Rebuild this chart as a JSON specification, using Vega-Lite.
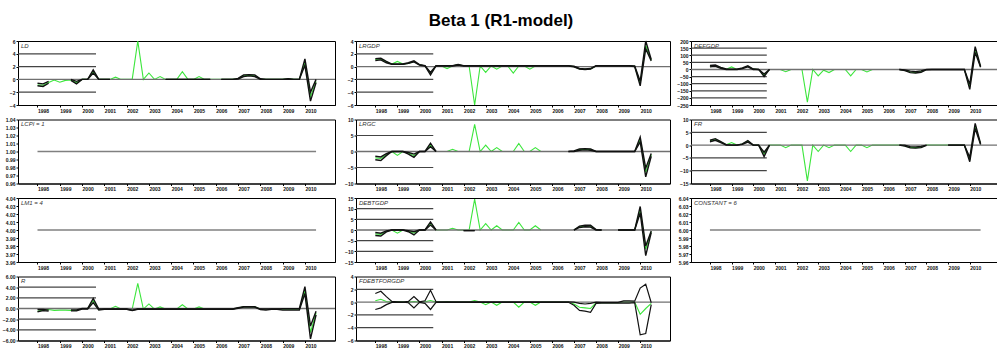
{
  "$schema": "https://vega.github.io/schema/vega-lite/v6.json",
  "padding": {"left": 1, "top": 11, "right": 0, "bottom": 0},
  "background": "white",
  "title": {"text": "Beta 1 (R1-model)", "font": "Liberation Sans", "fontSize": 17, "fontWeight": "bold", "anchor": "middle", "color": "#000", "offset": 8},
  "config": {
    "view": {"stroke": "#000", "strokeWidth": 1},
    "axis": {"grid": false, "labelFont": "Liberation Sans", "labelFontSize": 5, "labelFontWeight": "bold", "labelColor": "#111", "domainColor": "#000", "tickColor": "#000", "labelOverlap": false, "labelFlush": false, "labelBound": false, "tickCount": 30},
    "axisX": {"tickSize": 2, "labelAlign": "left", "labelBaseline": "top", "labelPadding": 1, "labelDx": 2, "minExtent": 9, "maxExtent": 9, "labelOverlap": false, "tickCount": 30},
    "axisY": {"tickSize": 2, "labelPadding": 1, "minExtent": 14, "maxExtent": 14, "labelOverlap": false, "tickCount": 30}
  },
  "datasets": {
    "g": [
      {"p": "LD", "y": 4}, {"p": "LD", "y": 2}, {"p": "LD", "y": -2},
      {"p": "LRGDP", "y": 2}, {"p": "LRGDP", "y": -2}, {"p": "LRGDP", "y": -4},
      {"p": "DEFGDP", "y": 150}, {"p": "DEFGDP", "y": 100}, {"p": "DEFGDP", "y": 50}, {"p": "DEFGDP", "y": -50}, {"p": "DEFGDP", "y": -100}, {"p": "DEFGDP", "y": -150}, {"p": "DEFGDP", "y": -200},
      {"p": "LRGC", "y": 5}, {"p": "LRGC", "y": -5},
      {"p": "FR", "y": 5}, {"p": "FR", "y": -5}, {"p": "FR", "y": -10},
      {"p": "DEBTGDP", "y": 10}, {"p": "DEBTGDP", "y": 5}, {"p": "DEBTGDP", "y": -5}, {"p": "DEBTGDP", "y": -10},
      {"p": "R", "y": 4}, {"p": "R", "y": 2}, {"p": "R", "y": -2}, {"p": "R", "y": -4},
      {"p": "FDEBT", "y": 2}, {"p": "FDEBT", "y": -2}, {"p": "FDEBT", "y": -4}
    ],
    "s": [
      {"p":"LCPI","q":0,"e":1},{"p":"LCPI","q":50,"e":1},
      {"p":"LM1","q":0,"e":4},{"p":"LM1","q":50,"e":4},
      {"p":"CONST","q":0,"e":6},{"p":"CONST","q":50,"e":6},

      {"p":"LD","q":0,"e":-0.87,"h":-0.6,"l":-1},
      {"p":"LD","q":1,"e":-0.9,"h":-0.7,"l":-1.1},
      {"p":"LD","q":2,"e":-0.5,"h":-0.3,"l":-0.6},
      {"p":"LD","q":3,"e":-0.1,"h":null,"l":null},
      {"p":"LD","q":4,"e":-0.45,"h":null,"l":null},
      {"p":"LD","q":5,"e":-0.15,"h":null,"l":null},
      {"p":"LD","q":6,"e":-0.1,"h":0,"l":-0.15},
      {"p":"LD","q":7,"e":-0.5,"h":-0.3,"l":-0.7},
      {"p":"LD","q":8,"e":0,"h":0,"l":0},
      {"p":"LD","q":9,"e":0,"h":0,"l":0},
      {"p":"LD","q":10,"e":1.2,"h":1.5,"l":1},
      {"p":"LD","q":11,"e":0,"h":0,"l":0},
      {"p":"LD","q":12,"e":0,"h":0,"l":0},
      {"p":"LD","q":13,"e":0,"h":0,"l":0},
      {"p":"LD","q":14,"e":0.35,"h":null,"l":null},
      {"p":"LD","q":15,"e":0,"h":null,"l":null},
      {"p":"LD","q":16,"e":0,"h":null,"l":null},
      {"p":"LD","q":17,"e":0,"h":null,"l":null},
      {"p":"LD","q":18,"e":6,"h":null,"l":null},
      {"p":"LD","q":19,"e":0,"h":null,"l":null},
      {"p":"LD","q":20,"e":1,"h":null,"l":null},
      {"p":"LD","q":21,"e":0,"h":null,"l":null},
      {"p":"LD","q":22,"e":0.45,"h":null,"l":null},
      {"p":"LD","q":23,"e":0,"h":0,"l":0},
      {"p":"LD","q":24,"e":0,"h":0,"l":0},
      {"p":"LD","q":25,"e":0,"h":0,"l":0},
      {"p":"LD","q":26,"e":1.2,"h":0,"l":0},
      {"p":"LD","q":27,"e":0,"h":0,"l":0},
      {"p":"LD","q":28,"e":0,"h":0,"l":0},
      {"p":"LD","q":29,"e":0.45,"h":0,"l":0},
      {"p":"LD","q":30,"e":0,"h":0,"l":0},
      {"p":"LD","q":31,"e":0,"h":0,"l":0},
      {"p":"LD","q":32,"e":0,"h":null,"l":null},
      {"p":"LD","q":33,"e":0,"h":0,"l":0},
      {"p":"LD","q":34,"e":0,"h":0,"l":0},
      {"p":"LD","q":35,"e":0,"h":0,"l":0},
      {"p":"LD","q":36,"e":0.1,"h":0.15,"l":0.05},
      {"p":"LD","q":37,"e":0.55,"h":0.7,"l":0.45},
      {"p":"LD","q":38,"e":0.65,"h":0.75,"l":0.55},
      {"p":"LD","q":39,"e":0.55,"h":0.7,"l":0.45},
      {"p":"LD","q":40,"e":0.05,"h":0.1,"l":0},
      {"p":"LD","q":41,"e":0,"h":0,"l":0},
      {"p":"LD","q":42,"e":0,"h":0,"l":0},
      {"p":"LD","q":43,"e":0,"h":0,"l":0},
      {"p":"LD","q":44,"e":0,"h":0,"l":0},
      {"p":"LD","q":45,"e":0.1,"h":0.12,"l":0.05},
      {"p":"LD","q":46,"e":0,"h":0,"l":0},
      {"p":"LD","q":47,"e":0,"h":0,"l":0},
      {"p":"LD","q":48,"e":2.6,"h":3.2,"l":2.2},
      {"p":"LD","q":49,"e":-2.7,"h":-2,"l":-3.4},
      {"p":"LD","q":50,"e":-0.3,"h":0,"l":-0.5},

      {"p":"LRGDP","q":0,"e":1.1,"h":1.25,"l":0.95},
      {"p":"LRGDP","q":1,"e":1.2,"h":1.3,"l":1.05},
      {"p":"LRGDP","q":2,"e":0.7,"h":0.8,"l":0.6},
      {"p":"LRGDP","q":3,"e":0.4,"h":0.4,"l":0.35},
      {"p":"LRGDP","q":4,"e":0.8,"h":0.4,"l":0.35},
      {"p":"LRGDP","q":5,"e":0.4,"h":0.4,"l":0.35},
      {"p":"LRGDP","q":6,"e":0.5,"h":0.6,"l":0.5},
      {"p":"LRGDP","q":7,"e":0.8,"h":0.9,"l":0.75},
      {"p":"LRGDP","q":8,"e":0.3,"h":0.3,"l":0.25},
      {"p":"LRGDP","q":9,"e":0.1,"h":0.15,"l":0.1},
      {"p":"LRGDP","q":10,"e":-1.05,"h":-0.9,"l":-1.3},
      {"p":"LRGDP","q":11,"e":0.1,"h":0.15,"l":0.1},
      {"p":"LRGDP","q":12,"e":0.1,"h":0.15,"l":0.1},
      {"p":"LRGDP","q":13,"e":-0.3,"h":0.15,"l":0.1},
      {"p":"LRGDP","q":14,"e":0.1,"h":0.15,"l":0.1},
      {"p":"LRGDP","q":15,"e":0.3,"h":0.35,"l":0.25},
      {"p":"LRGDP","q":16,"e":0.1,"h":0.15,"l":0.1},
      {"p":"LRGDP","q":17,"e":0.1,"h":0.15,"l":0.1},
      {"p":"LRGDP","q":18,"e":-6,"h":0.15,"l":0.1},
      {"p":"LRGDP","q":19,"e":0.1,"h":0.15,"l":0.1},
      {"p":"LRGDP","q":20,"e":-0.9,"h":0.15,"l":0.1},
      {"p":"LRGDP","q":21,"e":0.1,"h":0.15,"l":0.1},
      {"p":"LRGDP","q":22,"e":-0.4,"h":0.15,"l":0.1},
      {"p":"LRGDP","q":23,"e":0.1,"h":0.15,"l":0.1},
      {"p":"LRGDP","q":24,"e":0.1,"h":0.15,"l":0.1},
      {"p":"LRGDP","q":25,"e":-1,"h":0.15,"l":0.1},
      {"p":"LRGDP","q":26,"e":0.1,"h":0.15,"l":0.1},
      {"p":"LRGDP","q":27,"e":0.1,"h":0.15,"l":0.1},
      {"p":"LRGDP","q":28,"e":-0.4,"h":0.15,"l":0.1},
      {"p":"LRGDP","q":29,"e":0.1,"h":0.15,"l":0.1},
      {"p":"LRGDP","q":30,"e":0.1,"h":0.15,"l":0.1},
      {"p":"LRGDP","q":31,"e":0.1,"h":0.15,"l":0.1},
      {"p":"LRGDP","q":32,"e":0.1,"h":0.15,"l":0.1},
      {"p":"LRGDP","q":33,"e":0.1,"h":0.15,"l":0.1},
      {"p":"LRGDP","q":34,"e":0.1,"h":0.15,"l":0.1},
      {"p":"LRGDP","q":35,"e":0.1,"h":0.15,"l":0.1},
      {"p":"LRGDP","q":36,"e":0,"h":0.05,"l":-0.05},
      {"p":"LRGDP","q":37,"e":-0.35,"h":-0.3,"l":-0.4},
      {"p":"LRGDP","q":38,"e":-0.4,"h":-0.35,"l":-0.45},
      {"p":"LRGDP","q":39,"e":-0.35,"h":-0.3,"l":-0.4},
      {"p":"LRGDP","q":40,"e":0.1,"h":0.15,"l":0.1},
      {"p":"LRGDP","q":41,"e":0.1,"h":0.15,"l":0.1},
      {"p":"LRGDP","q":42,"e":0.1,"h":0.15,"l":0.1},
      {"p":"LRGDP","q":43,"e":0.1,"h":0.15,"l":0.1},
      {"p":"LRGDP","q":44,"e":0.1,"h":0.15,"l":0.1},
      {"p":"LRGDP","q":45,"e":0.1,"h":0.15,"l":0.1},
      {"p":"LRGDP","q":46,"e":0.1,"h":0.15,"l":0.1},
      {"p":"LRGDP","q":47,"e":0.05,"h":0.1,"l":0},
      {"p":"LRGDP","q":48,"e":-2.6,"h":-2.3,"l":-3},
      {"p":"LRGDP","q":49,"e":3.3,"h":4,"l":2.8},
      {"p":"LRGDP","q":50,"e":1,"h":1.1,"l":0.9},

      {"p":"DEFGDP","q":0,"e":22,"h":28,"l":18},
      {"p":"DEFGDP","q":1,"e":26,"h":31,"l":22},
      {"p":"DEFGDP","q":2,"e":11,"h":14,"l":8},
      {"p":"DEFGDP","q":3,"e":2,"h":3,"l":0},
      {"p":"DEFGDP","q":4,"e":18,"h":2,"l":0},
      {"p":"DEFGDP","q":5,"e":0,"h":2,"l":0},
      {"p":"DEFGDP","q":6,"e":8,"h":10,"l":6},
      {"p":"DEFGDP","q":7,"e":22,"h":25,"l":18},
      {"p":"DEFGDP","q":8,"e":2,"h":3,"l":0},
      {"p":"DEFGDP","q":9,"e":0,"h":0,"l":0},
      {"p":"DEFGDP","q":10,"e":-40,"h":-32,"l":-50},
      {"p":"DEFGDP","q":11,"e":0,"h":0,"l":0},
      {"p":"DEFGDP","q":12,"e":0,"h":null,"l":null},
      {"p":"DEFGDP","q":13,"e":0,"h":null,"l":null},
      {"p":"DEFGDP","q":14,"e":-16,"h":null,"l":null},
      {"p":"DEFGDP","q":15,"e":0,"h":null,"l":null},
      {"p":"DEFGDP","q":16,"e":0,"h":null,"l":null},
      {"p":"DEFGDP","q":17,"e":0,"h":null,"l":null},
      {"p":"DEFGDP","q":18,"e":-230,"h":null,"l":null},
      {"p":"DEFGDP","q":19,"e":0,"h":null,"l":null},
      {"p":"DEFGDP","q":20,"e":-45,"h":null,"l":null},
      {"p":"DEFGDP","q":21,"e":-5,"h":null,"l":null},
      {"p":"DEFGDP","q":22,"e":-22,"h":null,"l":null},
      {"p":"DEFGDP","q":23,"e":0,"h":null,"l":null},
      {"p":"DEFGDP","q":24,"e":0,"h":null,"l":null},
      {"p":"DEFGDP","q":25,"e":0,"h":null,"l":null},
      {"p":"DEFGDP","q":26,"e":-45,"h":null,"l":null},
      {"p":"DEFGDP","q":27,"e":0,"h":null,"l":null},
      {"p":"DEFGDP","q":28,"e":0,"h":null,"l":null},
      {"p":"DEFGDP","q":29,"e":-18,"h":null,"l":null},
      {"p":"DEFGDP","q":30,"e":0,"h":null,"l":null},
      {"p":"DEFGDP","q":31,"e":0,"h":null,"l":null},
      {"p":"DEFGDP","q":32,"e":0,"h":null,"l":null},
      {"p":"DEFGDP","q":33,"e":0,"h":null,"l":null},
      {"p":"DEFGDP","q":34,"e":0,"h":null,"l":null},
      {"p":"DEFGDP","q":35,"e":0,"h":0,"l":0},
      {"p":"DEFGDP","q":36,"e":-5,"h":-3,"l":-8},
      {"p":"DEFGDP","q":37,"e":-18,"h":-12,"l":-22},
      {"p":"DEFGDP","q":38,"e":-22,"h":-15,"l":-25},
      {"p":"DEFGDP","q":39,"e":-15,"h":-10,"l":-20},
      {"p":"DEFGDP","q":40,"e":0,"h":0,"l":-2},
      {"p":"DEFGDP","q":41,"e":0,"h":0,"l":0},
      {"p":"DEFGDP","q":42,"e":0,"h":0,"l":0},
      {"p":"DEFGDP","q":43,"e":0,"h":0,"l":0},
      {"p":"DEFGDP","q":44,"e":0,"h":0,"l":0},
      {"p":"DEFGDP","q":45,"e":0,"h":0,"l":0},
      {"p":"DEFGDP","q":46,"e":0,"h":0,"l":0},
      {"p":"DEFGDP","q":47,"e":0,"h":0,"l":0},
      {"p":"DEFGDP","q":48,"e":-120,"h":-105,"l":-140},
      {"p":"DEFGDP","q":49,"e":140,"h":160,"l":120},
      {"p":"DEFGDP","q":50,"e":18,"h":22,"l":15},

      {"p":"LRGC","q":0,"e":-2,"h":-1.5,"l":-2.6},
      {"p":"LRGC","q":1,"e":-2.2,"h":-1.7,"l":-2.8},
      {"p":"LRGC","q":2,"e":-1,"h":-0.7,"l":-1.3},
      {"p":"LRGC","q":3,"e":0,"h":0,"l":0},
      {"p":"LRGC","q":4,"e":-1.2,"h":0,"l":0},
      {"p":"LRGC","q":5,"e":0,"h":0,"l":0},
      {"p":"LRGC","q":6,"e":-0.5,"h":-0.3,"l":-0.8},
      {"p":"LRGC","q":7,"e":-1.3,"h":-0.8,"l":-1.8},
      {"p":"LRGC","q":8,"e":0,"h":0,"l":0},
      {"p":"LRGC","q":9,"e":0,"h":0,"l":0},
      {"p":"LRGC","q":10,"e":2,"h":2.6,"l":1.5},
      {"p":"LRGC","q":11,"e":0,"h":0,"l":0},
      {"p":"LRGC","q":12,"e":0,"h":null,"l":null},
      {"p":"LRGC","q":13,"e":0,"h":null,"l":null},
      {"p":"LRGC","q":14,"e":0.7,"h":null,"l":null},
      {"p":"LRGC","q":15,"e":0,"h":null,"l":null},
      {"p":"LRGC","q":16,"e":0,"h":null,"l":null},
      {"p":"LRGC","q":17,"e":0,"h":null,"l":null},
      {"p":"LRGC","q":18,"e":8.5,"h":null,"l":null},
      {"p":"LRGC","q":19,"e":0,"h":null,"l":null},
      {"p":"LRGC","q":20,"e":2,"h":null,"l":null},
      {"p":"LRGC","q":21,"e":0,"h":null,"l":null},
      {"p":"LRGC","q":22,"e":1.2,"h":null,"l":null},
      {"p":"LRGC","q":23,"e":0,"h":null,"l":null},
      {"p":"LRGC","q":24,"e":0,"h":null,"l":null},
      {"p":"LRGC","q":25,"e":0,"h":null,"l":null},
      {"p":"LRGC","q":26,"e":2.5,"h":null,"l":null},
      {"p":"LRGC","q":27,"e":0,"h":null,"l":null},
      {"p":"LRGC","q":28,"e":0,"h":null,"l":null},
      {"p":"LRGC","q":29,"e":1.2,"h":null,"l":null},
      {"p":"LRGC","q":30,"e":0,"h":null,"l":null},
      {"p":"LRGC","q":31,"e":0,"h":null,"l":null},
      {"p":"LRGC","q":32,"e":0,"h":null,"l":null},
      {"p":"LRGC","q":33,"e":0,"h":null,"l":null},
      {"p":"LRGC","q":34,"e":0,"h":null,"l":null},
      {"p":"LRGC","q":35,"e":0,"h":0,"l":0},
      {"p":"LRGC","q":36,"e":0.1,"h":0.2,"l":0},
      {"p":"LRGC","q":37,"e":0.6,"h":0.8,"l":0.4},
      {"p":"LRGC","q":38,"e":0.7,"h":0.9,"l":0.5},
      {"p":"LRGC","q":39,"e":0.6,"h":0.8,"l":0.4},
      {"p":"LRGC","q":40,"e":0,"h":0,"l":0},
      {"p":"LRGC","q":41,"e":0,"h":0,"l":0},
      {"p":"LRGC","q":42,"e":0,"h":0,"l":0},
      {"p":"LRGC","q":43,"e":0,"h":0,"l":0},
      {"p":"LRGC","q":44,"e":0,"h":0,"l":0},
      {"p":"LRGC","q":45,"e":0,"h":0,"l":0},
      {"p":"LRGC","q":46,"e":0,"h":0,"l":0},
      {"p":"LRGC","q":47,"e":0,"h":0,"l":0},
      {"p":"LRGC","q":48,"e":3.8,"h":4.5,"l":3},
      {"p":"LRGC","q":49,"e":-6.5,"h":-5.2,"l":-7.9},
      {"p":"LRGC","q":50,"e":-1,"h":-0.6,"l":-1.5},

      {"p":"FR","q":0,"e":1.6,"h":1.9,"l":1.3},
      {"p":"FR","q":1,"e":2.2,"h":2.5,"l":1.9},
      {"p":"FR","q":2,"e":1.2,"h":1.4,"l":1},
      {"p":"FR","q":3,"e":0.1,"h":0.2,"l":0},
      {"p":"FR","q":4,"e":1,"h":0,"l":0},
      {"p":"FR","q":5,"e":0,"h":0,"l":0},
      {"p":"FR","q":6,"e":0.4,"h":0.5,"l":0.3},
      {"p":"FR","q":7,"e":1.5,"h":1.8,"l":1.2},
      {"p":"FR","q":8,"e":0,"h":0,"l":0},
      {"p":"FR","q":9,"e":0,"h":0,"l":0},
      {"p":"FR","q":10,"e":-3.5,"h":-2.8,"l":-4.5},
      {"p":"FR","q":11,"e":0,"h":0,"l":0},
      {"p":"FR","q":12,"e":0,"h":null,"l":null},
      {"p":"FR","q":13,"e":0,"h":null,"l":null},
      {"p":"FR","q":14,"e":-1,"h":null,"l":null},
      {"p":"FR","q":15,"e":0,"h":null,"l":null},
      {"p":"FR","q":16,"e":0,"h":null,"l":null},
      {"p":"FR","q":17,"e":0,"h":null,"l":null},
      {"p":"FR","q":18,"e":-14,"h":null,"l":null},
      {"p":"FR","q":19,"e":0,"h":null,"l":null},
      {"p":"FR","q":20,"e":-2.5,"h":null,"l":null},
      {"p":"FR","q":21,"e":0,"h":null,"l":null},
      {"p":"FR","q":22,"e":-1,"h":null,"l":null},
      {"p":"FR","q":23,"e":0,"h":null,"l":null},
      {"p":"FR","q":24,"e":0,"h":null,"l":null},
      {"p":"FR","q":25,"e":0,"h":null,"l":null},
      {"p":"FR","q":26,"e":-2.5,"h":null,"l":null},
      {"p":"FR","q":27,"e":0,"h":null,"l":null},
      {"p":"FR","q":28,"e":0,"h":null,"l":null},
      {"p":"FR","q":29,"e":-1,"h":null,"l":null},
      {"p":"FR","q":30,"e":0,"h":null,"l":null},
      {"p":"FR","q":31,"e":0,"h":null,"l":null},
      {"p":"FR","q":32,"e":0,"h":null,"l":null},
      {"p":"FR","q":33,"e":0,"h":null,"l":null},
      {"p":"FR","q":34,"e":0,"h":null,"l":null},
      {"p":"FR","q":35,"e":0,"h":0,"l":0},
      {"p":"FR","q":36,"e":-0.2,"h":0,"l":-0.4},
      {"p":"FR","q":37,"e":-0.9,"h":-0.6,"l":-1.1},
      {"p":"FR","q":38,"e":-1,"h":-0.7,"l":-1.2},
      {"p":"FR","q":39,"e":-0.8,"h":-0.5,"l":-1},
      {"p":"FR","q":40,"e":0,"h":0,"l":-0.1},
      {"p":"FR","q":41,"e":0,"h":null,"l":null},
      {"p":"FR","q":42,"e":0,"h":null,"l":null},
      {"p":"FR","q":43,"e":0,"h":null,"l":null},
      {"p":"FR","q":44,"e":0,"h":0,"l":0},
      {"p":"FR","q":45,"e":0,"h":0,"l":0},
      {"p":"FR","q":46,"e":0,"h":0,"l":0},
      {"p":"FR","q":47,"e":0,"h":0,"l":0},
      {"p":"FR","q":48,"e":-5.5,"h":-4.8,"l":-6.5},
      {"p":"FR","q":49,"e":7.5,"h":8.5,"l":6.5},
      {"p":"FR","q":50,"e":0.4,"h":0.6,"l":0.2},

      {"p":"DEBTGDP","q":0,"e":-1.8,"h":-1.2,"l":-2.6},
      {"p":"DEBTGDP","q":1,"e":-2.1,"h":-1.5,"l":-2.8},
      {"p":"DEBTGDP","q":2,"e":-0.6,"h":-0.4,"l":-0.9},
      {"p":"DEBTGDP","q":3,"e":0,"h":0,"l":0},
      {"p":"DEBTGDP","q":4,"e":-1.5,"h":0,"l":0},
      {"p":"DEBTGDP","q":5,"e":0,"h":0,"l":0},
      {"p":"DEBTGDP","q":6,"e":-0.5,"h":-0.3,"l":-0.8},
      {"p":"DEBTGDP","q":7,"e":-1.5,"h":-0.8,"l":-2.3},
      {"p":"DEBTGDP","q":8,"e":0,"h":0,"l":0},
      {"p":"DEBTGDP","q":9,"e":0,"h":0,"l":0},
      {"p":"DEBTGDP","q":10,"e":3,"h":3.8,"l":2.3},
      {"p":"DEBTGDP","q":11,"e":0,"h":0,"l":0},
      {"p":"DEBTGDP","q":12,"e":0,"h":null,"l":null},
      {"p":"DEBTGDP","q":13,"e":0,"h":null,"l":null},
      {"p":"DEBTGDP","q":14,"e":0.8,"h":null,"l":null},
      {"p":"DEBTGDP","q":15,"e":0,"h":null,"l":null},
      {"p":"DEBTGDP","q":16,"e":0,"h":-0.3,"l":-0.3},
      {"p":"DEBTGDP","q":17,"e":0,"h":-0.3,"l":-0.3},
      {"p":"DEBTGDP","q":18,"e":14.5,"h":-0.3,"l":-0.3},
      {"p":"DEBTGDP","q":19,"e":0,"h":null,"l":null},
      {"p":"DEBTGDP","q":20,"e":3,"h":null,"l":null},
      {"p":"DEBTGDP","q":21,"e":0,"h":null,"l":null},
      {"p":"DEBTGDP","q":22,"e":2,"h":null,"l":null},
      {"p":"DEBTGDP","q":23,"e":0,"h":null,"l":null},
      {"p":"DEBTGDP","q":24,"e":0,"h":null,"l":null},
      {"p":"DEBTGDP","q":25,"e":0,"h":null,"l":null},
      {"p":"DEBTGDP","q":26,"e":3.5,"h":null,"l":null},
      {"p":"DEBTGDP","q":27,"e":0,"h":null,"l":null},
      {"p":"DEBTGDP","q":28,"e":0,"h":null,"l":null},
      {"p":"DEBTGDP","q":29,"e":2,"h":null,"l":null},
      {"p":"DEBTGDP","q":30,"e":0,"h":null,"l":null},
      {"p":"DEBTGDP","q":31,"e":null,"h":null,"l":null},
      {"p":"DEBTGDP","q":32,"e":null,"h":null,"l":null},
      {"p":"DEBTGDP","q":33,"e":null,"h":null,"l":null},
      {"p":"DEBTGDP","q":34,"e":null,"h":null,"l":null},
      {"p":"DEBTGDP","q":35,"e":null,"h":null,"l":null},
      {"p":"DEBTGDP","q":36,"e":0,"h":0,"l":0},
      {"p":"DEBTGDP","q":37,"e":1.5,"h":1.8,"l":1.2},
      {"p":"DEBTGDP","q":38,"e":1.8,"h":2.2,"l":1.5},
      {"p":"DEBTGDP","q":39,"e":1.8,"h":2.2,"l":1.4},
      {"p":"DEBTGDP","q":40,"e":0.1,"h":0.2,"l":0},
      {"p":"DEBTGDP","q":41,"e":0,"h":0,"l":0},
      {"p":"DEBTGDP","q":42,"e":null,"h":null,"l":null},
      {"p":"DEBTGDP","q":43,"e":null,"h":null,"l":null},
      {"p":"DEBTGDP","q":44,"e":0,"h":0,"l":0},
      {"p":"DEBTGDP","q":45,"e":0,"h":0,"l":0},
      {"p":"DEBTGDP","q":46,"e":0,"h":0,"l":0},
      {"p":"DEBTGDP","q":47,"e":0,"h":0,"l":0},
      {"p":"DEBTGDP","q":48,"e":9.5,"h":11,"l":8},
      {"p":"DEBTGDP","q":49,"e":-9,"h":-7.5,"l":-12},
      {"p":"DEBTGDP","q":50,"e":-0.8,"h":-0.5,"l":-1.2},

      {"p":"R","q":0,"e":-0.5,"h":-0.2,"l":-0.6},
      {"p":"R","q":1,"e":-0.3,"h":-0.2,"l":-0.4},
      {"p":"R","q":2,"e":-0.2,"h":-0.3,"l":-0.5},
      {"p":"R","q":3,"e":-0.35,"h":null,"l":null},
      {"p":"R","q":4,"e":-0.3,"h":null,"l":null},
      {"p":"R","q":5,"e":-0.3,"h":null,"l":null},
      {"p":"R","q":6,"e":-0.35,"h":-0.25,"l":-0.45},
      {"p":"R","q":7,"e":-0.35,"h":-0.25,"l":-0.45},
      {"p":"R","q":8,"e":0,"h":0,"l":-0.1},
      {"p":"R","q":9,"e":0,"h":0,"l":-0.1},
      {"p":"R","q":10,"e":1.5,"h":1.9,"l":1.1},
      {"p":"R","q":11,"e":-0.2,"h":-0.1,"l":-0.3},
      {"p":"R","q":12,"e":-0.1,"h":-0.1,"l":-0.15},
      {"p":"R","q":13,"e":-0.1,"h":-0.1,"l":-0.15},
      {"p":"R","q":14,"e":0.4,"h":-0.1,"l":-0.15},
      {"p":"R","q":15,"e":-0.1,"h":-0.1,"l":-0.15},
      {"p":"R","q":16,"e":-0.1,"h":-0.1,"l":-0.15},
      {"p":"R","q":17,"e":-0.1,"h":-0.3,"l":-0.4},
      {"p":"R","q":18,"e":4.7,"h":-0.1,"l":-0.15},
      {"p":"R","q":19,"e":-0.1,"h":-0.1,"l":-0.15},
      {"p":"R","q":20,"e":0.85,"h":-0.1,"l":-0.15},
      {"p":"R","q":21,"e":-0.1,"h":-0.1,"l":-0.15},
      {"p":"R","q":22,"e":0.3,"h":-0.1,"l":-0.15},
      {"p":"R","q":23,"e":-0.1,"h":-0.1,"l":-0.15},
      {"p":"R","q":24,"e":-0.1,"h":-0.1,"l":-0.15},
      {"p":"R","q":25,"e":-0.1,"h":-0.1,"l":-0.15},
      {"p":"R","q":26,"e":0.7,"h":-0.1,"l":-0.15},
      {"p":"R","q":27,"e":-0.1,"h":-0.1,"l":-0.15},
      {"p":"R","q":28,"e":-0.1,"h":-0.1,"l":-0.15},
      {"p":"R","q":29,"e":0.3,"h":-0.1,"l":-0.15},
      {"p":"R","q":30,"e":-0.1,"h":-0.1,"l":-0.15},
      {"p":"R","q":31,"e":-0.1,"h":-0.1,"l":-0.15},
      {"p":"R","q":32,"e":-0.1,"h":-0.1,"l":-0.15},
      {"p":"R","q":33,"e":-0.1,"h":-0.1,"l":-0.15},
      {"p":"R","q":34,"e":-0.1,"h":-0.1,"l":-0.15},
      {"p":"R","q":35,"e":-0.1,"h":-0.1,"l":-0.15},
      {"p":"R","q":36,"e":0.1,"h":0.15,"l":0.05},
      {"p":"R","q":37,"e":0.3,"h":0.35,"l":0.25},
      {"p":"R","q":38,"e":0.3,"h":0.35,"l":0.25},
      {"p":"R","q":39,"e":0.3,"h":0.35,"l":0.25},
      {"p":"R","q":40,"e":-0.1,"h":-0.1,"l":-0.2},
      {"p":"R","q":41,"e":-0.15,"h":-0.1,"l":-0.3},
      {"p":"R","q":42,"e":-0.1,"h":-0.1,"l":-0.15},
      {"p":"R","q":43,"e":-0.1,"h":-0.1,"l":-0.15},
      {"p":"R","q":44,"e":-0.15,"h":-0.05,"l":-0.3},
      {"p":"R","q":45,"e":-0.15,"h":-0.05,"l":-0.3},
      {"p":"R","q":46,"e":-0.15,"h":-0.05,"l":-0.3},
      {"p":"R","q":47,"e":-0.15,"h":-0.05,"l":-0.3},
      {"p":"R","q":48,"e":3.4,"h":4.1,"l":2.8},
      {"p":"R","q":49,"e":-4.5,"h":-3.3,"l":-5.7},
      {"p":"R","q":50,"e":-0.8,"h":-0.5,"l":-1.2},

      {"p":"FDEBT","q":0,"e":0.2,"h":1.35,"l":-1.15},
      {"p":"FDEBT","q":1,"e":0.45,"h":1.7,"l":-0.9},
      {"p":"FDEBT","q":2,"e":0.1,"h":0.85,"l":-0.4},
      {"p":"FDEBT","q":3,"e":0,"h":0.1,"l":-0.05},
      {"p":"FDEBT","q":4,"e":0.1,"h":0.05,"l":-0.05},
      {"p":"FDEBT","q":5,"e":0.05,"h":0,"l":0},
      {"p":"FDEBT","q":6,"e":0,"h":0.1,"l":-0.1},
      {"p":"FDEBT","q":7,"e":0.1,"h":0.85,"l":-0.9},
      {"p":"FDEBT","q":8,"e":0,"h":0.05,"l":-0.05},
      {"p":"FDEBT","q":9,"e":0.05,"h":0.2,"l":-0.2},
      {"p":"FDEBT","q":10,"e":0.25,"h":1.85,"l":-1.15},
      {"p":"FDEBT","q":11,"e":0,"h":0.05,"l":-0.05},
      {"p":"FDEBT","q":12,"e":0,"h":0.03,"l":-0.03},
      {"p":"FDEBT","q":13,"e":0.1,"h":0.03,"l":-0.03},
      {"p":"FDEBT","q":14,"e":0,"h":0.03,"l":-0.03},
      {"p":"FDEBT","q":15,"e":0,"h":0.03,"l":-0.03},
      {"p":"FDEBT","q":16,"e":0,"h":0.03,"l":-0.03},
      {"p":"FDEBT","q":17,"e":0,"h":0.03,"l":-0.03},
      {"p":"FDEBT","q":18,"e":0.25,"h":0.03,"l":-0.03},
      {"p":"FDEBT","q":19,"e":0,"h":0.03,"l":-0.03},
      {"p":"FDEBT","q":20,"e":-0.4,"h":0.03,"l":-0.03},
      {"p":"FDEBT","q":21,"e":0,"h":0.03,"l":-0.03},
      {"p":"FDEBT","q":22,"e":-0.5,"h":0.03,"l":-0.03},
      {"p":"FDEBT","q":23,"e":0,"h":0.03,"l":-0.03},
      {"p":"FDEBT","q":24,"e":0,"h":0.03,"l":-0.03},
      {"p":"FDEBT","q":25,"e":0,"h":0.03,"l":-0.03},
      {"p":"FDEBT","q":26,"e":-0.8,"h":0.03,"l":-0.03},
      {"p":"FDEBT","q":27,"e":0,"h":0.03,"l":-0.03},
      {"p":"FDEBT","q":28,"e":0,"h":0.03,"l":-0.03},
      {"p":"FDEBT","q":29,"e":-0.5,"h":0.03,"l":-0.03},
      {"p":"FDEBT","q":30,"e":0,"h":0.03,"l":-0.03},
      {"p":"FDEBT","q":31,"e":0,"h":0.03,"l":-0.03},
      {"p":"FDEBT","q":32,"e":0,"h":0.03,"l":-0.03},
      {"p":"FDEBT","q":33,"e":0,"h":0.03,"l":-0.03},
      {"p":"FDEBT","q":34,"e":0,"h":0.03,"l":-0.03},
      {"p":"FDEBT","q":35,"e":0,"h":0.03,"l":-0.03},
      {"p":"FDEBT","q":36,"e":-0.3,"h":0,"l":-0.5},
      {"p":"FDEBT","q":37,"e":-0.8,"h":-0.2,"l":-1.3},
      {"p":"FDEBT","q":38,"e":-0.9,"h":-0.3,"l":-1.4},
      {"p":"FDEBT","q":39,"e":-1,"h":-0.2,"l":-1.6},
      {"p":"FDEBT","q":40,"e":-0.1,"h":0,"l":-0.2},
      {"p":"FDEBT","q":41,"e":-0.1,"h":-0.05,"l":-0.15},
      {"p":"FDEBT","q":42,"e":-0.1,"h":-0.05,"l":-0.15},
      {"p":"FDEBT","q":43,"e":-0.1,"h":-0.05,"l":-0.15},
      {"p":"FDEBT","q":44,"e":-0.1,"h":-0.05,"l":-0.15},
      {"p":"FDEBT","q":45,"e":0,"h":0.2,"l":-0.15},
      {"p":"FDEBT","q":46,"e":0,"h":0.2,"l":-0.15},
      {"p":"FDEBT","q":47,"e":0,"h":0.15,"l":-0.1},
      {"p":"FDEBT","q":48,"e":-1.9,"h":2.2,"l":-5.1},
      {"p":"FDEBT","q":49,"e":-1,"h":2.8,"l":-4.9},
      {"p":"FDEBT","q":50,"e":-0.2,"h":-0.1,"l":-0.4}
    ]
  },
  "columns": 3,
  "spacing": {"row": 1.5, "column": 4},
  "concat": [
    {"width": 317, "height": 64, "layer": [
      {"data": {"name": "g"}, "transform": [{"filter": "datum.p == 'LD'"}], "mark": {"type": "rule", "color": "#444", "strokeWidth": 1.2},
       "encoding": {"x": {"datum": -3.5, "type": "quantitative", "title": null, "scale": {"domain": [-3.5, 53.4], "nice": false, "zero": false}, "axis": {"values": [0,4,8,12,16,20,24,28,32,36,40,44,48], "labelExpr": "1998 + datum.value / 4", "labelOverlap": false, "tickCount": 30}}, "x2": {"datum": 10.5},
        "y": {"field": "y", "type": "quantitative", "title": null, "scale": {"domain": [-4, 6], "nice": false, "zero": false}, "axis": {"values": [-4,-2,0,2,4,6], "format": "d", "labelOverlap": false, "tickCount": 30}}}},
      {"data": {"name": "s"}, "transform": [{"filter": "datum.p == 'LD'"}], "mark": {"type": "line", "color": "#3ce63c", "strokeWidth": 1.1}, "encoding": {"x": {"field": "q", "type": "quantitative", "title": null}, "y": {"field": "e", "type": "quantitative", "title": null}}},
      {"data": {"values": [{}]}, "mark": {"type": "rule", "color": "#707070", "strokeWidth": 1.4}, "encoding": {"y": {"datum": 0}}},
      {"data": {"name": "s"}, "transform": [{"filter": "datum.p == 'LD'"}], "mark": {"type": "line", "color": "#111", "strokeWidth": 1.4}, "encoding": {"x": {"field": "q", "type": "quantitative", "title": null}, "y": {"field": "h", "type": "quantitative", "title": null}}},
      {"data": {"name": "s"}, "transform": [{"filter": "datum.p == 'LD'"}], "mark": {"type": "line", "color": "#111", "strokeWidth": 1.4}, "encoding": {"x": {"field": "q", "type": "quantitative", "title": null}, "y": {"field": "l", "type": "quantitative", "title": null}}},
      {"data": {"values": [{}]}, "mark": {"type": "text", "align": "left", "baseline": "top", "dx": 3, "dy": 1.5, "fontSize": 6, "fontStyle": "italic", "font": "Liberation Sans", "color": "#333"}, "encoding": {"x": {"datum": -3.5}, "y": {"datum": 6}, "text": {"value": "LD"}}}
    ]},
    {"width": 314, "height": 64, "layer": [
      {"data": {"name": "g"}, "transform": [{"filter": "datum.p == 'LRGDP'"}], "mark": {"type": "rule", "color": "#444", "strokeWidth": 1.2},
       "encoding": {"x": {"datum": -3.5, "type": "quantitative", "title": null, "scale": {"domain": [-3.5, 53.4], "nice": false, "zero": false}, "axis": {"values": [0,4,8,12,16,20,24,28,32,36,40,44,48], "labelExpr": "1998 + datum.value / 4", "labelOverlap": false, "tickCount": 30}}, "x2": {"datum": 10.5},
        "y": {"field": "y", "type": "quantitative", "title": null, "scale": {"domain": [-6, 4], "nice": false, "zero": false}, "axis": {"values": [-6,-4,-2,0,2,4], "format": "d", "labelOverlap": false, "tickCount": 30}}}},
      {"data": {"name": "s"}, "transform": [{"filter": "datum.p == 'LRGDP'"}], "mark": {"type": "line", "color": "#3ce63c", "strokeWidth": 1.1}, "encoding": {"x": {"field": "q", "type": "quantitative", "title": null}, "y": {"field": "e", "type": "quantitative", "title": null}}},
      {"data": {"values": [{}]}, "mark": {"type": "rule", "color": "#707070", "strokeWidth": 1.4}, "encoding": {"y": {"datum": 0}}},
      {"data": {"name": "s"}, "transform": [{"filter": "datum.p == 'LRGDP'"}], "mark": {"type": "line", "color": "#111", "strokeWidth": 1.4}, "encoding": {"x": {"field": "q", "type": "quantitative", "title": null}, "y": {"field": "h", "type": "quantitative", "title": null}}},
      {"data": {"name": "s"}, "transform": [{"filter": "datum.p == 'LRGDP'"}], "mark": {"type": "line", "color": "#111", "strokeWidth": 1.4}, "encoding": {"x": {"field": "q", "type": "quantitative", "title": null}, "y": {"field": "l", "type": "quantitative", "title": null}}},
      {"data": {"values": [{}]}, "mark": {"type": "text", "align": "left", "baseline": "top", "dx": 3, "dy": 1.5, "fontSize": 6, "fontStyle": "italic", "font": "Liberation Sans", "color": "#333"}, "encoding": {"x": {"datum": -3.5}, "y": {"datum": 4}, "text": {"value": "LRGDP"}}}
    ]},
    {"width": 308, "height": 64, "layer": [
      {"data": {"name": "g"}, "transform": [{"filter": "datum.p == 'DEFGDP'"}], "mark": {"type": "rule", "color": "#444", "strokeWidth": 1.2},
       "encoding": {"x": {"datum": -3.5, "type": "quantitative", "title": null, "scale": {"domain": [-3.5, 53.4], "nice": false, "zero": false}, "axis": {"values": [0,4,8,12,16,20,24,28,32,36,40,44,48], "labelExpr": "1998 + datum.value / 4", "labelOverlap": false, "tickCount": 30}}, "x2": {"datum": 10.5},
        "y": {"field": "y", "type": "quantitative", "title": null, "scale": {"domain": [-250, 200], "nice": false, "zero": false}, "axis": {"values": [-250,-200,-150,-100,-50,0,50,100,150,200], "format": "d", "labelOverlap": false, "tickCount": 30}}}},
      {"data": {"name": "s"}, "transform": [{"filter": "datum.p == 'DEFGDP'"}], "mark": {"type": "line", "color": "#3ce63c", "strokeWidth": 1.1}, "encoding": {"x": {"field": "q", "type": "quantitative", "title": null}, "y": {"field": "e", "type": "quantitative", "title": null}}},
      {"data": {"values": [{}]}, "mark": {"type": "rule", "color": "#707070", "strokeWidth": 1.4}, "encoding": {"y": {"datum": 0}}},
      {"data": {"name": "s"}, "transform": [{"filter": "datum.p == 'DEFGDP'"}], "mark": {"type": "line", "color": "#111", "strokeWidth": 1.4}, "encoding": {"x": {"field": "q", "type": "quantitative", "title": null}, "y": {"field": "h", "type": "quantitative", "title": null}}},
      {"data": {"name": "s"}, "transform": [{"filter": "datum.p == 'DEFGDP'"}], "mark": {"type": "line", "color": "#111", "strokeWidth": 1.4}, "encoding": {"x": {"field": "q", "type": "quantitative", "title": null}, "y": {"field": "l", "type": "quantitative", "title": null}}},
      {"data": {"values": [{}]}, "mark": {"type": "text", "align": "left", "baseline": "top", "dx": 3, "dy": 1.5, "fontSize": 6, "fontStyle": "italic", "font": "Liberation Sans", "color": "#333"}, "encoding": {"x": {"datum": -3.5}, "y": {"datum": 200}, "text": {"value": "DEFGDP"}}}
    ]},
    {"width": 317, "height": 64, "layer": [
      {"data": {"name": "s"}, "transform": [{"filter": "datum.p == 'LCPI'"}], "mark": {"type": "line", "color": "#808080", "strokeWidth": 1.5},
       "encoding": {"x": {"field": "q", "type": "quantitative", "title": null, "scale": {"domain": [-3.5, 53.4], "nice": false, "zero": false}, "axis": {"values": [0,4,8,12,16,20,24,28,32,36,40,44,48], "labelExpr": "1998 + datum.value / 4", "labelOverlap": false, "tickCount": 30}},
        "y": {"field": "e", "type": "quantitative", "title": null, "scale": {"domain": [0.96, 1.04], "nice": false, "zero": false}, "axis": {"values": [0.96,0.97,0.98,0.99,1,1.01,1.02,1.03,1.04], "format": ".2f", "labelOverlap": false, "tickCount": 30}}}},
      {"data": {"values": [{}]}, "mark": {"type": "text", "align": "left", "baseline": "top", "dx": 3, "dy": 1.5, "fontSize": 6, "fontStyle": "italic", "font": "Liberation Sans", "color": "#333"}, "encoding": {"x": {"datum": -3.5}, "y": {"datum": 1.04}, "text": {"value": "LCPI = 1"}}}
    ]},
    {"width": 314, "height": 64, "layer": [
      {"data": {"name": "g"}, "transform": [{"filter": "datum.p == 'LRGC'"}], "mark": {"type": "rule", "color": "#444", "strokeWidth": 1.2},
       "encoding": {"x": {"datum": -3.5, "type": "quantitative", "title": null, "scale": {"domain": [-3.5, 53.4], "nice": false, "zero": false}, "axis": {"values": [0,4,8,12,16,20,24,28,32,36,40,44,48], "labelExpr": "1998 + datum.value / 4", "labelOverlap": false, "tickCount": 30}}, "x2": {"datum": 10.5},
        "y": {"field": "y", "type": "quantitative", "title": null, "scale": {"domain": [-10, 10], "nice": false, "zero": false}, "axis": {"values": [-10,-5,0,5,10], "format": "d", "labelOverlap": false, "tickCount": 30}}}},
      {"data": {"name": "s"}, "transform": [{"filter": "datum.p == 'LRGC'"}], "mark": {"type": "line", "color": "#3ce63c", "strokeWidth": 1.1}, "encoding": {"x": {"field": "q", "type": "quantitative", "title": null}, "y": {"field": "e", "type": "quantitative", "title": null}}},
      {"data": {"values": [{}]}, "mark": {"type": "rule", "color": "#707070", "strokeWidth": 1.4}, "encoding": {"y": {"datum": 0}}},
      {"data": {"name": "s"}, "transform": [{"filter": "datum.p == 'LRGC'"}], "mark": {"type": "line", "color": "#111", "strokeWidth": 1.4}, "encoding": {"x": {"field": "q", "type": "quantitative", "title": null}, "y": {"field": "h", "type": "quantitative", "title": null}}},
      {"data": {"name": "s"}, "transform": [{"filter": "datum.p == 'LRGC'"}], "mark": {"type": "line", "color": "#111", "strokeWidth": 1.4}, "encoding": {"x": {"field": "q", "type": "quantitative", "title": null}, "y": {"field": "l", "type": "quantitative", "title": null}}},
      {"data": {"values": [{}]}, "mark": {"type": "text", "align": "left", "baseline": "top", "dx": 3, "dy": 1.5, "fontSize": 6, "fontStyle": "italic", "font": "Liberation Sans", "color": "#333"}, "encoding": {"x": {"datum": -3.5}, "y": {"datum": 10}, "text": {"value": "LRGC"}}}
    ]},
    {"width": 308, "height": 64, "layer": [
      {"data": {"name": "g"}, "transform": [{"filter": "datum.p == 'FR'"}], "mark": {"type": "rule", "color": "#444", "strokeWidth": 1.2},
       "encoding": {"x": {"datum": -3.5, "type": "quantitative", "title": null, "scale": {"domain": [-3.5, 53.4], "nice": false, "zero": false}, "axis": {"values": [0,4,8,12,16,20,24,28,32,36,40,44,48], "labelExpr": "1998 + datum.value / 4", "labelOverlap": false, "tickCount": 30}}, "x2": {"datum": 10.5},
        "y": {"field": "y", "type": "quantitative", "title": null, "scale": {"domain": [-15, 10], "nice": false, "zero": false}, "axis": {"values": [-15,-10,-5,0,5,10], "format": "d", "labelOverlap": false, "tickCount": 30}}}},
      {"data": {"name": "s"}, "transform": [{"filter": "datum.p == 'FR'"}], "mark": {"type": "line", "color": "#3ce63c", "strokeWidth": 1.1}, "encoding": {"x": {"field": "q", "type": "quantitative", "title": null}, "y": {"field": "e", "type": "quantitative", "title": null}}},
      {"data": {"values": [{}]}, "mark": {"type": "rule", "color": "#707070", "strokeWidth": 1.4}, "encoding": {"y": {"datum": 0}}},
      {"data": {"name": "s"}, "transform": [{"filter": "datum.p == 'FR'"}], "mark": {"type": "line", "color": "#111", "strokeWidth": 1.4}, "encoding": {"x": {"field": "q", "type": "quantitative", "title": null}, "y": {"field": "h", "type": "quantitative", "title": null}}},
      {"data": {"name": "s"}, "transform": [{"filter": "datum.p == 'FR'"}], "mark": {"type": "line", "color": "#111", "strokeWidth": 1.4}, "encoding": {"x": {"field": "q", "type": "quantitative", "title": null}, "y": {"field": "l", "type": "quantitative", "title": null}}},
      {"data": {"values": [{}]}, "mark": {"type": "text", "align": "left", "baseline": "top", "dx": 3, "dy": 1.5, "fontSize": 6, "fontStyle": "italic", "font": "Liberation Sans", "color": "#333"}, "encoding": {"x": {"datum": -3.5}, "y": {"datum": 10}, "text": {"value": "FR"}}}
    ]},
    {"width": 317, "height": 64, "layer": [
      {"data": {"name": "s"}, "transform": [{"filter": "datum.p == 'LM1'"}], "mark": {"type": "line", "color": "#808080", "strokeWidth": 1.5},
       "encoding": {"x": {"field": "q", "type": "quantitative", "title": null, "scale": {"domain": [-3.5, 53.4], "nice": false, "zero": false}, "axis": {"values": [0,4,8,12,16,20,24,28,32,36,40,44,48], "labelExpr": "1998 + datum.value / 4", "labelOverlap": false, "tickCount": 30}},
        "y": {"field": "e", "type": "quantitative", "title": null, "scale": {"domain": [3.96, 4.04], "nice": false, "zero": false}, "axis": {"values": [3.96,3.97,3.98,3.99,4,4.01,4.02,4.03,4.04], "format": ".2f", "labelOverlap": false, "tickCount": 30}}}},
      {"data": {"values": [{}]}, "mark": {"type": "text", "align": "left", "baseline": "top", "dx": 3, "dy": 1.5, "fontSize": 6, "fontStyle": "italic", "font": "Liberation Sans", "color": "#333"}, "encoding": {"x": {"datum": -3.5}, "y": {"datum": 4.04}, "text": {"value": "LM1 = 4"}}}
    ]},
    {"width": 314, "height": 64, "layer": [
      {"data": {"name": "g"}, "transform": [{"filter": "datum.p == 'DEBTGDP'"}], "mark": {"type": "rule", "color": "#444", "strokeWidth": 1.2},
       "encoding": {"x": {"datum": -3.5, "type": "quantitative", "title": null, "scale": {"domain": [-3.5, 53.4], "nice": false, "zero": false}, "axis": {"values": [0,4,8,12,16,20,24,28,32,36,40,44,48], "labelExpr": "1998 + datum.value / 4", "labelOverlap": false, "tickCount": 30}}, "x2": {"datum": 10.5},
        "y": {"field": "y", "type": "quantitative", "title": null, "scale": {"domain": [-15, 15], "nice": false, "zero": false}, "axis": {"values": [-15,-10,-5,0,5,10,15], "format": "d", "labelOverlap": false, "tickCount": 30}}}},
      {"data": {"name": "s"}, "transform": [{"filter": "datum.p == 'DEBTGDP'"}], "mark": {"type": "line", "color": "#3ce63c", "strokeWidth": 1.1}, "encoding": {"x": {"field": "q", "type": "quantitative", "title": null}, "y": {"field": "e", "type": "quantitative", "title": null}}},
      {"data": {"values": [{}]}, "mark": {"type": "rule", "color": "#707070", "strokeWidth": 1.4}, "encoding": {"y": {"datum": 0}}},
      {"data": {"name": "s"}, "transform": [{"filter": "datum.p == 'DEBTGDP'"}], "mark": {"type": "line", "color": "#111", "strokeWidth": 1.4}, "encoding": {"x": {"field": "q", "type": "quantitative", "title": null}, "y": {"field": "h", "type": "quantitative", "title": null}}},
      {"data": {"name": "s"}, "transform": [{"filter": "datum.p == 'DEBTGDP'"}], "mark": {"type": "line", "color": "#111", "strokeWidth": 1.4}, "encoding": {"x": {"field": "q", "type": "quantitative", "title": null}, "y": {"field": "l", "type": "quantitative", "title": null}}},
      {"data": {"values": [{}]}, "mark": {"type": "text", "align": "left", "baseline": "top", "dx": 3, "dy": 1.5, "fontSize": 6, "fontStyle": "italic", "font": "Liberation Sans", "color": "#333"}, "encoding": {"x": {"datum": -3.5}, "y": {"datum": 15}, "text": {"value": "DEBTGDP"}}}
    ]},
    {"width": 308, "height": 64, "layer": [
      {"data": {"name": "s"}, "transform": [{"filter": "datum.p == 'CONST'"}], "mark": {"type": "line", "color": "#808080", "strokeWidth": 1.5},
       "encoding": {"x": {"field": "q", "type": "quantitative", "title": null, "scale": {"domain": [-3.5, 53.4], "nice": false, "zero": false}, "axis": {"values": [0,4,8,12,16,20,24,28,32,36,40,44,48], "labelExpr": "1998 + datum.value / 4", "labelOverlap": false, "tickCount": 30}},
        "y": {"field": "e", "type": "quantitative", "title": null, "scale": {"domain": [5.96, 6.04], "nice": false, "zero": false}, "axis": {"values": [5.96,5.97,5.98,5.99,6,6.01,6.02,6.03,6.04], "format": ".2f", "labelOverlap": false, "tickCount": 30}}}},
      {"data": {"values": [{}]}, "mark": {"type": "text", "align": "left", "baseline": "top", "dx": 3, "dy": 1.5, "fontSize": 6, "fontStyle": "italic", "font": "Liberation Sans", "color": "#333"}, "encoding": {"x": {"datum": -3.5}, "y": {"datum": 6.04}, "text": {"value": "CONSTANT = 6"}}}
    ]},
    {"width": 317, "height": 64, "layer": [
      {"data": {"name": "g"}, "transform": [{"filter": "datum.p == 'R'"}], "mark": {"type": "rule", "color": "#444", "strokeWidth": 1.2},
       "encoding": {"x": {"datum": -3.5, "type": "quantitative", "title": null, "scale": {"domain": [-3.5, 53.4], "nice": false, "zero": false}, "axis": {"values": [0,4,8,12,16,20,24,28,32,36,40,44,48], "labelExpr": "1998 + datum.value / 4", "labelOverlap": false, "tickCount": 30}}, "x2": {"datum": 10.5},
        "y": {"field": "y", "type": "quantitative", "title": null, "scale": {"domain": [-6, 6], "nice": false, "zero": false}, "axis": {"values": [-6,-4,-2,0,2,4,6], "format": ".2f", "labelOverlap": false, "tickCount": 30}}}},
      {"data": {"name": "s"}, "transform": [{"filter": "datum.p == 'R'"}], "mark": {"type": "line", "color": "#3ce63c", "strokeWidth": 1.1}, "encoding": {"x": {"field": "q", "type": "quantitative", "title": null}, "y": {"field": "e", "type": "quantitative", "title": null}}},
      {"data": {"values": [{}]}, "mark": {"type": "rule", "color": "#707070", "strokeWidth": 1.4}, "encoding": {"y": {"datum": 0}}},
      {"data": {"name": "s"}, "transform": [{"filter": "datum.p == 'R'"}], "mark": {"type": "line", "color": "#111", "strokeWidth": 1.4}, "encoding": {"x": {"field": "q", "type": "quantitative", "title": null}, "y": {"field": "h", "type": "quantitative", "title": null}}},
      {"data": {"name": "s"}, "transform": [{"filter": "datum.p == 'R'"}], "mark": {"type": "line", "color": "#111", "strokeWidth": 1.4}, "encoding": {"x": {"field": "q", "type": "quantitative", "title": null}, "y": {"field": "l", "type": "quantitative", "title": null}}},
      {"data": {"values": [{}]}, "mark": {"type": "text", "align": "left", "baseline": "top", "dx": 3, "dy": 1.5, "fontSize": 6, "fontStyle": "italic", "font": "Liberation Sans", "color": "#333"}, "encoding": {"x": {"datum": -3.5}, "y": {"datum": 6}, "text": {"value": "R"}}}
    ]},
    {"width": 314, "height": 64, "layer": [
      {"data": {"name": "g"}, "transform": [{"filter": "datum.p == 'FDEBT'"}], "mark": {"type": "rule", "color": "#444", "strokeWidth": 1.2},
       "encoding": {"x": {"datum": -3.5, "type": "quantitative", "title": null, "scale": {"domain": [-3.5, 53.4], "nice": false, "zero": false}, "axis": {"values": [0,4,8,12,16,20,24,28,32,36,40,44,48], "labelExpr": "1998 + datum.value / 4", "labelOverlap": false, "tickCount": 30}}, "x2": {"datum": 10.5},
        "y": {"field": "y", "type": "quantitative", "title": null, "scale": {"domain": [-6, 4], "nice": false, "zero": false}, "axis": {"values": [-6,-4,-2,0,2,4], "format": "d", "labelOverlap": false, "tickCount": 30}}}},
      {"data": {"name": "s"}, "transform": [{"filter": "datum.p == 'FDEBT'"}], "mark": {"type": "line", "color": "#3ce63c", "strokeWidth": 1.1}, "encoding": {"x": {"field": "q", "type": "quantitative", "title": null}, "y": {"field": "e", "type": "quantitative", "title": null}}},
      {"data": {"values": [{}]}, "mark": {"type": "rule", "color": "#707070", "strokeWidth": 1.4}, "encoding": {"y": {"datum": 0}}},
      {"data": {"name": "s"}, "transform": [{"filter": "datum.p == 'FDEBT'"}], "mark": {"type": "line", "color": "#111", "strokeWidth": 1.2}, "encoding": {"x": {"field": "q", "type": "quantitative", "title": null}, "y": {"field": "h", "type": "quantitative", "title": null}}},
      {"data": {"name": "s"}, "transform": [{"filter": "datum.p == 'FDEBT'"}], "mark": {"type": "line", "color": "#111", "strokeWidth": 1.2}, "encoding": {"x": {"field": "q", "type": "quantitative", "title": null}, "y": {"field": "l", "type": "quantitative", "title": null}}},
      {"data": {"values": [{}]}, "mark": {"type": "text", "align": "left", "baseline": "top", "dx": 3, "dy": 1.5, "fontSize": 6, "fontStyle": "italic", "font": "Liberation Sans", "color": "#333"}, "encoding": {"x": {"datum": -3.5}, "y": {"datum": 4}, "text": {"value": "FDEBTFORGDP"}}}
    ]}
  ]
}
